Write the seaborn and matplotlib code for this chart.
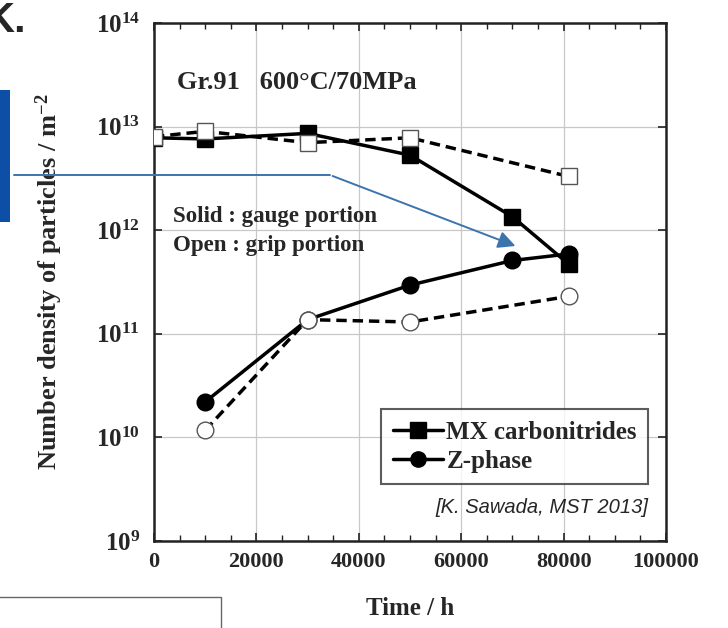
import numpy as np
import pandas as pd
import matplotlib
matplotlib.use("Agg")
import matplotlib.pyplot as plt
from matplotlib.lines import Line2D
from matplotlib.patches import FancyArrowPatch, Rectangle
import seaborn as sns

# Particle number density (m^-2) versus creep time (h), Gr.91 at 600 C / 70 MPa
mx_gauge_time = [0, 10000, 30000, 50000, 70000, 81000]
mx_gauge_density = [7.8e12, 7.6e12, 8.6e12, 5.3e12, 1.35e12, 4.7e11]
mx_grip_time = [0, 10000, 30000, 50000, 81000]
mx_grip_density = [8.0e12, 9.0e12, 7.0e12, 7.8e12, 3.3e12]

z_gauge_time = [10000, 30000, 50000, 70000, 81000]
z_gauge_density = [2.2e10, 1.37e11, 2.95e11, 5.1e11, 5.9e11]
z_grip_time = [10000, 30000, 50000, 81000]
z_grip_density = [1.17e10, 1.37e11, 1.3e11, 2.3e11]

x_ticks = [0, 20000, 40000, 60000, 80000, 100000]
y_exponents = [9, 10, 11, 12, 13, 14]

sns.set_style("ticks")
plt.rcParams["font.family"] = ["Liberation Serif", "DejaVu Serif"]
plt.rcParams["mathtext.fontset"] = "custom"
plt.rcParams["mathtext.rm"] = "Liberation Serif:bold"
plt.rcParams["mathtext.bf"] = "Liberation Serif:bold"
plt.rcParams["mathtext.it"] = "Liberation Serif:bold"

W, H = 728, 628
fig = plt.figure(figsize=(W / 100, H / 100), dpi=100)
ax = fig.add_axes([154 / W, 1 - 541 / H, (666 - 154) / W, (541 - 23) / H])

ax.set_yscale("log")
ax.set_xlim(0, 100000)
ax.set_ylim(1e9, 1e14)

def draw(times, dens, marker, filled, dashed, z):
    df = pd.DataFrame({"t": times, "n": dens})
    sns.lineplot(
        data=df, x="t", y="n", ax=ax, color="black",
        linewidth=2.5, linestyle=(0, (3.0, 1.7)) if dashed else "-",
        marker=marker, markersize=12,
        markerfacecolor="black" if filled else "white",
        markeredgecolor="black" if filled else "#555555",
        markeredgewidth=1.0, zorder=z, legend=False,
    )

draw(mx_gauge_time, mx_gauge_density, "s", True, False, 3)
draw(mx_grip_time, mx_grip_density, "s", False, True, 4)
draw(z_gauge_time, z_gauge_density, "o", True, False, 3)
draw(z_grip_time, z_grip_density, "o", False, True, 4)

ax.set_xticks(x_ticks)
ax.set_xticklabels([str(v) for v in x_ticks])
ax.set_xticks(np.arange(0, 100001, 5000), minor=True)
ax.set_yticks([10.0 ** e for e in y_exponents])
ax.set_yticklabels([rf"$10^{{{e}}}$" for e in y_exponents])
ax.yaxis.set_minor_locator(matplotlib.ticker.NullLocator())

ax.grid(True, which="major", color="#c8c8c8", linewidth=0.9)
ax.set_axisbelow(True)
for s in ax.spines.values():
    s.set_linewidth(1.8)
    s.set_color("#222222")
ax.tick_params(axis="both", which="both", direction="in", top=True, right=True,
               color="#222222")
ax.tick_params(which="major", length=6, width=1.2)
ax.tick_params(which="minor", length=4, width=1.0)
ax.tick_params(axis="x", labelsize=16, pad=8)
ax.tick_params(axis="y", labelsize=18, pad=10)
for lab in ax.get_xticklabels():
    lab.set_fontweight("bold")

ax.set_xlabel("Time / h", fontsize=18, fontweight="bold", labelpad=18)
ax.set_ylabel(r"Number density of particles / m$^{-2}$", fontsize=19,
              fontweight="bold", labelpad=22)

ax.text(0.045, 0.885, "Gr.91   600°C/70MPa", transform=ax.transAxes,
        fontsize=19, fontweight="bold", va="center")
ax.text(0.037, 0.627, "Solid : gauge portion", transform=ax.transAxes,
        fontsize=16.5, fontweight="bold", va="center")
ax.text(0.037, 0.570, "Open : grip portion", transform=ax.transAxes,
        fontsize=16.5, fontweight="bold", va="center")
ax.text(0.965, 0.065, "[K. Sawada, MST 2013]", transform=ax.transAxes,
        fontsize=14.5, style="italic", family="Liberation Sans",
        ha="right", va="center")

handles = [
    Line2D([], [], color="black", linewidth=2.5, marker="s", markersize=11,
           markerfacecolor="black"),
    Line2D([], [], color="black", linewidth=2.5, marker="o", markersize=11,
           markerfacecolor="black"),
]
leg = ax.legend(handles, ["MX carbonitrides", "Z-phase"], loc="lower right",
                bbox_to_anchor=(0.965, 0.11), frameon=True, fancybox=False,
                prop={"weight": "bold", "size": 18}, handlelength=2.0,
                handletextpad=0.15, borderpad=0.45, labelspacing=0.25,
                borderaxespad=0.0)
leg.get_frame().set_edgecolor("#333333")
leg.get_frame().set_linewidth(1.5)

# Slide elements around the figure
fig.text(-0.022, 0.967, "K.", fontsize=30, fontweight="bold",
         family="Liberation Sans", va="center", ha="left")
fig.add_artist(Rectangle((0, 1 - 222 / H), 10 / W, 132 / H,
                         transform=fig.transFigure, facecolor="#0d4fa6",
                         edgecolor="none"))
fig.add_artist(Line2D([14 / W, 330 / W], [1 - 175 / H, 1 - 175 / H],
                      transform=fig.transFigure, color="#3c74ad", linewidth=1.4))
fig.add_artist(FancyArrowPatch((330 / W, 1 - 175 / H), (518 / W, 1 - 247 / H),
                               transform=fig.transFigure, color="#3c74ad",
                               linewidth=1.4, arrowstyle="-|>",
                               mutation_scale=26))
fig.add_artist(Rectangle((-0.01, -0.05), 228 / W, 0.05 + 31 / H,
                         transform=fig.transFigure, facecolor="white",
                         edgecolor="#666666", linewidth=1.0))

fig.savefig("out.png", dpi=100)
